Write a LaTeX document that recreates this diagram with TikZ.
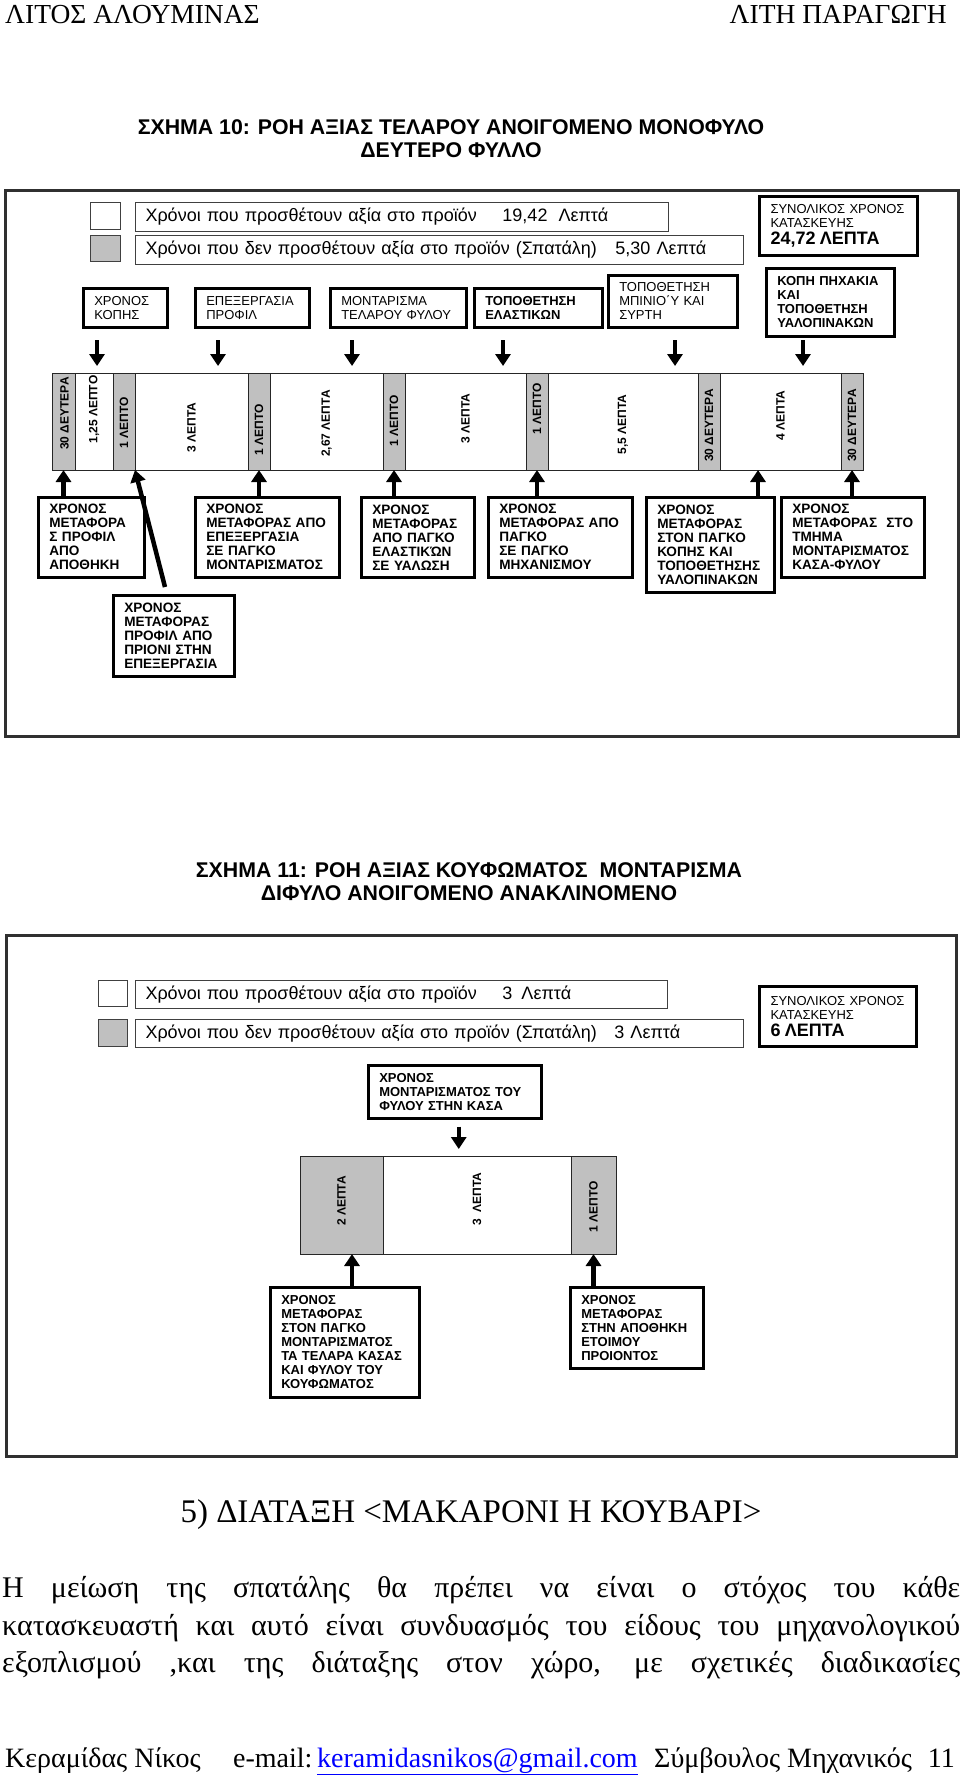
\documentclass[tikz,border=0pt]{standalone}
\usepackage{fontspec}
\setmainfont{Liberation Serif}
\setsansfont{Liberation Sans}
\usetikzlibrary{arrows.meta,calc}

\definecolor{waste}{HTML}{C0C0C0}
\definecolor{frameline}{HTML}{303030}

\tikzstyle{frame}=[draw=frameline,line width=2.5pt,anchor=north west,inner sep=0pt]
\tikzstyle{legsq}=[draw=black!75,line width=1pt,anchor=north west,inner sep=0pt]
\tikzstyle{legtext}=[draw=black!75,line width=1pt,anchor=north west,inner xsep=10pt,inner ysep=0pt,align=left,font=\sffamily\fontsize{18}{20}\selectfont]
\tikzstyle{total}=[draw,line width=3pt,anchor=north west,inner xsep=11pt,inner ysep=2pt,align=left,font=\sffamily\fontsize{13}{14}\selectfont]
\tikzstyle{proc}=[draw,line width=2.5pt,anchor=north west,inner xsep=11pt,inner ysep=2pt,align=left,font=\sffamily\fontsize{13}{14}\selectfont]
\tikzstyle{procbold}=[proc,font=\sffamily\bfseries\fontsize{13}{14}\selectfont]
\tikzstyle{transport}=[proc,font=\sffamily\bfseries\fontsize{13.6}{14}\selectfont]
\tikzstyle{seg}=[draw=black!85,line width=1pt,anchor=north west,inner sep=0pt,outer sep=0pt]
\tikzstyle{wasteseg}=[seg,fill=waste]
\tikzstyle{seglabel}=[rotate=90,inner sep=0pt,font=\sffamily\bfseries\fontsize{12}{12}\selectfont]
\tikzstyle{fat}=[line width=4.5pt,-{Triangle[width=15pt,length=12pt]}]
\tikzstyle{title}=[align=center,font=\sffamily\bfseries\fontsize{21.3}{23}\selectfont]
\tikzstyle{pagetext}=[inner sep=0pt,font=\fontsize{28}{30}\selectfont]

\begin{document}
\begin{tikzpicture}[x=1pt,y=1pt]

\fill[white] (0,0) rectangle (960,-1775);
\useasboundingbox (0,0) rectangle (960,-1775);

% page header
\node[pagetext,anchor=base west,font=\fontsize{27.5}{30}\selectfont] (head1) at (5,-23) {ΛΙΤΟΣ ΑΛΟΥΜΙΝΑΣ};
\node[pagetext,anchor=base east,font=\fontsize{27.5}{30}\selectfont] (head2) at (947,-23) {ΛΙΤΗ ΠΑΡΑΓΩΓΗ};

% ---------------- schema 10
\node[title] (title10) at (451,-139) {ΣΧΗΜΑ 10: ΡΟΗ ΑΞΙΑΣ ΤΕΛΑΡΟΥ ΑΝΟΙΓΟΜΕΝΟ ΜΟΝΟΦΥΛΟ\\ΔΕΥΤΕΡΟ ΦΥΛΛΟ};
\node[frame,minimum width=953pt,minimum height=546pt] (frame10) at (4,-189) {};

\node[legsq,minimum width=30pt,minimum height=27pt] (valsq) at (90,-202) {};
\node[legsq,fill=waste,minimum width=30pt,minimum height=26pt] (wastesq) at (90,-235) {};
\node[legtext,text width=513pt,minimum height=29pt] (valtext) at (135,-202) {\makebox[357pt][l]{Χρόνοι που προσθέτουν αξία στο προϊόν}19,42\hspace{11pt}Λεπτά};
\node[legtext,text width=588pt,minimum height=29pt] (wastetext) at (135,-235) {\makebox[470pt][l]{Χρόνοι που δεν προσθέτουν αξία στο προϊόν (Σπατάλη)}5,30 Λεπτά};
\node[total,text width=136pt,minimum height=59pt] (total10) at (758,-195) {ΣΥΝΟΛΙΚΟΣ ΧΡΟΝΟΣ\\ΚΑΤΑΣΚΕΥΗΣ\\[3pt]{\bfseries\fontsize{18}{20}\selectfont 24,72 ΛΕΠΤΑ}};

% process steps
\node[proc,text width=62pt,minimum height=39pt] (cut) at (82,-287) {ΧΡΟΝΟΣ\\ΚΟΠΗΣ};
\node[proc,text width=92pt,minimum height=39pt] (machining) at (194,-287) {ΕΠΕΞΕΡΓΑΣΙΑ\\ΠΡΟΦΙΛ};
\node[proc,text width=114pt,minimum height=39pt] (assembly) at (329,-287) {ΜΟΝΤΑΡΙΣΜΑ\\ΤΕΛΑΡΟΥ ΦΥΛΟΥ};
\node[procbold,text width=106pt,minimum height=39pt] (gaskets) at (473,-287) {ΤΟΠΟΘΕΤΗΣΗ\\ΕΛΑΣΤΙΚΩΝ};
\node[proc,text width=107pt,minimum height=52pt] (hinges) at (607,-274) {ΤΟΠΟΘΕΤΗΣΗ\\ΜΠΙΝΙΟ΄Υ ΚΑΙ\\ΣΥΡΤΗ};
\node[procbold,text width=106pt,minimum height=68pt] (glazing) at (765,-267) {ΚΟΠΗ ΠΗΧΑΚΙΑ\\ΚΑΙ\\ΤΟΠΟΘΕΤΗΣΗ\\ΥΑΛΟΠΙΝΑΚΩΝ};

% time strip
\node[wasteseg,minimum width=23pt,minimum height=97pt] (s1) at (52,-373) {};
\node[seg,minimum width=38pt,minimum height=97pt] (s2) at (s1.north east) {};
\node[wasteseg,minimum width=22pt,minimum height=97pt] (s3) at (s2.north east) {};
\node[seg,minimum width=113pt,minimum height=97pt] (s4) at (s3.north east) {};
\node[wasteseg,minimum width=22pt,minimum height=97pt] (s5) at (s4.north east) {};
\node[seg,minimum width=113pt,minimum height=97pt] (s6) at (s5.north east) {};
\node[wasteseg,minimum width=22pt,minimum height=97pt] (s7) at (s6.north east) {};
\node[seg,minimum width=121pt,minimum height=97pt] (s8) at (s7.north east) {};
\node[wasteseg,minimum width=22pt,minimum height=97pt] (s9) at (s8.north east) {};
\node[seg,minimum width=150pt,minimum height=97pt] (s10) at (s9.north east) {};
\node[wasteseg,minimum width=22pt,minimum height=97pt] (s11) at (s10.north east) {};
\node[seg,minimum width=121pt,minimum height=97pt] (s12) at (s11.north east) {};
\node[wasteseg,minimum width=22pt,minimum height=97pt] (s13) at (s12.north east) {};

\node[seglabel] (l1) at ($(s1.center)+(1,8)$) {30 ΔΕΥΤΕΡΑ};
\node[seglabel] (l2) at ($(s2.center)+(0,12)$) {1,25 ΛΕΠΤΟ};
\node[seglabel] (l3) at ($(s3.center)+(0,-1)$) {1 ΛΕΠΤΟ};
\node[seglabel] (l4) at ($(s4.center)+(0,-6)$) {3 ΛΕΠΤΑ};
\node[seglabel] (l5) at ($(s5.center)+(0,-8)$) {1 ΛΕΠΤΟ};
\node[seglabel] (l6) at ($(s6.center)+(0,-2)$) {2,67 ΛΕΠΤΑ};
\node[seglabel] (l7) at ($(s7.center)+(0,1)$) {1 ΛΕΠΤΟ};
\node[seglabel] (l8) at ($(s8.center)+(0,3)$) {3 ΛΕΠΤΑ};
\node[seglabel] (l9) at ($(s9.center)+(0,13)$) {1 ΛΕΠΤΟ};
\node[seglabel] (l10) at ($(s10.center)+(0,-3)$) {5,5 ΛΕΠΤΑ};
\node[seglabel] (l11) at ($(s11.center)+(0,-4)$) {30 ΔΕΥΤΕΡΑ};
\node[seglabel] (l12) at ($(s12.center)+(0,6)$) {4 ΛΕΠΤΑ};
\node[seglabel] (l13) at ($(s13.center)+(0,-4)$) {30 ΔΕΥΤΕΡΑ};

% transport times
\node[transport,text width=84pt,minimum height=80pt] (b1) at (37,-496) {ΧΡΟΝΟΣ\\ΜΕΤΑΦΟΡΑ\\Σ ΠΡΟΦΙΛ\\ΑΠΟ\\ΑΠΟΘΗΚΗ};
\node[transport,text width=122pt,minimum height=80pt] (b2) at (194,-496) {ΧΡΟΝΟΣ\\ΜΕΤΑΦΟΡΑΣ ΑΠΟ\\ΕΠΕΞΕΡΓΑΣΙΑ\\ΣΕ ΠΑΓΚΟ\\ΜΟΝΤΑΡΙΣΜΑΤΟΣ};
\node[transport,text width=91pt,minimum height=80pt] (b3) at (360,-496) {ΧΡΟΝΟΣ\\ΜΕΤΑΦΟΡΑΣ\\ΑΠΟ ΠΑΓΚΟ\\ΕΛΑΣΤΙΚΏΝ\\ΣΕ ΥΑΛΩΣΗ};
\node[transport,text width=122pt,minimum height=80pt] (b4) at (487,-496) {ΧΡΟΝΟΣ\\ΜΕΤΑΦΟΡΑΣ ΑΠΟ\\ΠΑΓΚΟ\\ΣΕ ΠΑΓΚΟ\\ΜΗΧΑΝΙΣΜΟΥ};
\node[transport,text width=106pt,minimum height=95pt] (b5) at (645,-496) {ΧΡΟΝΟΣ\\ΜΕΤΑΦΟΡΑΣ\\ΣΤΟΝ ΠΑΓΚΟ\\ΚΟΠΗΣ ΚΑΙ\\ΤΟΠΟΘΕΤΗΣΗΣ\\ΥΑΛΟΠΙΝΑΚΩΝ};
\node[transport,text width=121pt,minimum height=80pt] (b6) at (780,-496) {ΧΡΟΝΟΣ\\ΜΕΤΑΦΟΡΑΣ\ \ ΣΤΟ\\ΤΜΗΜΑ\\ΜΟΝΤΑΡΙΣΜΑΤΟΣ\\ΚΑΣΑ-ΦΥΛΟΥ};
\node[transport,text width=99pt,minimum height=81pt] (b7) at (112,-594) {ΧΡΟΝΟΣ\\ΜΕΤΑΦΟΡΑΣ\\ΠΡΟΦΙΛ ΑΠΟ\\ΠΡΙΟΝΙ ΣΤΗΝ\\ΕΠΕΞΕΡΓΑΣΙΑ};

% arrows into the strip
\coordinate (in1) at (97,-340);
\coordinate (in2) at (218,-340);
\coordinate (in3) at (352,-340);
\coordinate (in4) at (503,-340);
\coordinate (in5) at (675,-340);
\coordinate (in6) at (803,-340);
\draw[fat,shorten >=7pt] (in1) -- (in1 |- s2.north);
\draw[fat,shorten >=7pt] (in2) -- (in2 |- s4.north);
\draw[fat,shorten >=7pt] (in3) -- (in3 |- s6.north);
\draw[fat,shorten >=7pt] (in4) -- (in4 |- s8.north);
\draw[fat,shorten >=7pt] (in5) -- (in5 |- s10.north);
\draw[fat,shorten >=7pt] (in6) -- (in6 |- s12.north);

\coordinate (up5) at ($(s12.south west)+(38,0)$);
\draw[fat] (b1.north -| s1.south) -- (s1.south);
\draw[fat] (b2.north -| s5.south) -- (s5.south);
\draw[fat] (b3.north -| s7.south) -- (s7.south);
\draw[fat] (b4.north -| s9.south) -- (s9.south);
\draw[fat] (b5.north -| up5) -- (up5);
\draw[fat] (b6.north -| s13.south) -- (s13.south);
\draw[fat] ($(b7.north west)+(53,7)$) -- (s3.south east);

% ---------------- schema 11
\node[title] (title11) at (469,-882) {ΣΧΗΜΑ 11: ΡΟΗ ΑΞΙΑΣ ΚΟΥΦΩΜΑΤΟΣ\ \ ΜΟΝΤΑΡΙΣΜΑ\\ΔΙΦΥΛΟ ΑΝΟΙΓΟΜΕΝΟ ΑΝΑΚΛΙΝΟΜΕΝΟ};
\node[frame,minimum width=950pt,minimum height=521pt] (frame11) at (5,-934) {};

\node[legsq,minimum width=29pt,minimum height=26pt] (valsq2) at (98,-980) {};
\node[legsq,fill=waste,minimum width=29pt,minimum height=27pt] (wastesq2) at (98,-1019) {};
\node[legtext,text width=512pt,minimum height=28pt] (valtext2) at (135,-980) {\makebox[357pt][l]{Χρόνοι που προσθέτουν αξία στο προϊόν}3\hspace{9pt}Λεπτά};
\node[legtext,text width=588pt,minimum height=28pt] (wastetext2) at (135,-1019) {\makebox[469pt][l]{Χρόνοι που δεν προσθέτουν αξία στο προϊόν (Σπατάλη)}3 Λεπτά};
\node[total,text width=135pt,minimum height=60pt] (total11) at (758,-985) {ΣΥΝΟΛΙΚΟΣ ΧΡΟΝΟΣ\\ΚΑΤΑΣΚΕΥΗΣ\\[3pt]{\bfseries\fontsize{18}{20}\selectfont 6 ΛΕΠΤΑ}};

\node[procbold,text width=151pt,minimum height=53pt] (fitting) at (367,-1064) {ΧΡΟΝΟΣ\\ΜΟΝΤΑΡΙΣΜΑΤΟΣ ΤΟΥ\\ΦΥΛΟΥ ΣΤΗΝ ΚΑΣΑ};

\node[wasteseg,minimum width=83pt,minimum height=98pt] (t1) at (300,-1156) {};
\node[seg,minimum width=188pt,minimum height=98pt] (t2) at (t1.north east) {};
\node[wasteseg,minimum width=45pt,minimum height=98pt] (t3) at (t2.north east) {};
\node[seglabel] (m1) at ($(t1.center)+(0,4)$) {2 ΛΕΠΤΑ};
\node[seglabel] (m2) at ($(t2.center)+(0,6)$) {3\ \ ΛΕΠΤΑ};
\node[seglabel] (m3) at ($(t3.center)+(0,-2)$) {1 ΛΕΠΤΟ};

\node[procbold,text width=127pt,minimum height=110pt] (b8) at (269,-1286) {ΧΡΟΝΟΣ\\ΜΕΤΑΦΟΡΑΣ\\ΣΤΟΝ ΠΑΓΚΟ\\ΜΟΝΤΑΡΙΣΜΑΤΟΣ\\ΤΑ ΤΕΛΑΡΑ ΚΑΣΑΣ\\ΚΑΙ ΦΥΛΟΥ ΤΟΥ\\ΚΟΥΦΩΜΑΤΟΣ};
\node[procbold,text width=111pt,minimum height=81pt] (b9) at (569,-1286) {ΧΡΟΝΟΣ\\ΜΕΤΑΦΟΡΑΣ\\ΣΤΗΝ ΑΠΟΘΗΚΗ\\ΕΤΟΙΜΟΥ\\ΠΡΟΙΟΝΤΟΣ};

\coordinate (in7) at ($(fitting.south)+(4,0)$);
\coordinate (up8) at (352,-1286);
\draw[fat,shorten <=7pt,shorten >=7pt] (in7) -- (in7 |- t2.north);
\draw[fat] (up8) -- (up8 |- t1.south);
\draw[fat] (b9.north -| t3.south) -- (t3.south);

% ---------------- text below
\node[pagetext,anchor=base,font=\fontsize{33}{36}\selectfont] (section5) at (471,-1522) {5) ΔΙΑΤΑΞΗ <ΜΑΚΑΡΟΝΙ Η ΚΟΥΒΑΡΙ>};
\node[pagetext,anchor=base west,font=\fontsize{30}{38}\selectfont] (body1) at (2,-1597) {\makebox[958pt][s]{Η μείωση της σπατάλης θα πρέπει να είναι ο στόχος του κάθε}};
\node[pagetext,anchor=base west,font=\fontsize{30}{38}\selectfont] (body2) at (2,-1635) {\makebox[958pt][s]{κατασκευαστή και αυτό είναι συνδυασμός του είδους του μηχανολογικού}};
\node[pagetext,anchor=base west,font=\fontsize{30}{38}\selectfont] (body3) at (2,-1672) {\makebox[958pt][s]{εξοπλισμού ,και της διάταξης στον χώρο, με σχετικές διαδικασίες}};

% page footer
\node[pagetext,anchor=base west] (author) at (5,-1767) {Κεραμίδας Νίκος};
\node[pagetext,anchor=base west] (maillabel) at (233,-1767) {e-mail:};
\node[pagetext,anchor=base west] (mail) at (317,-1767) {\textcolor{blue}{\underline{keramidasnikos@gmail.com}}};
\node[pagetext,anchor=base west] (role) at (654,-1767) {Σύμβουλος Μηχανικός};
\node[pagetext,anchor=base east] (pageno) at (955,-1767) {11};

\end{tikzpicture}
\end{document}
